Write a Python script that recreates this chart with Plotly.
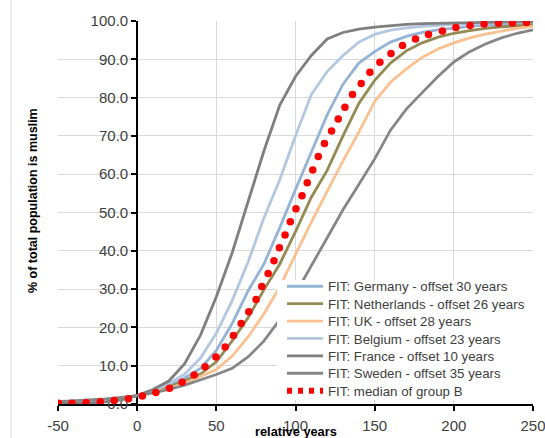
import plotly.graph_objects as go

# relative years (x grid for fitted curves)
years = [-50, -40, -30, -20, -10, 0, 10, 20, 30, 40, 50, 60, 70, 80, 90, 100,
         110, 120, 130, 140, 150, 160, 170, 180, 190, 200, 210, 220, 230, 240, 250]

germany = [0.25, 0.35, 0.55, 0.85, 1.35, 2.2, 3.3, 4.8, 6.8, 9.3, 14.0, 21.0, 29.5, 36.5, 46.0, 56.0,
           66.0, 75.5, 83.5, 89.0, 92.0, 94.5, 96.0, 97.0, 97.7, 98.2, 98.6, 98.9, 99.1, 99.3, 99.4]
netherlands = [0.3, 0.4, 0.6, 0.95, 1.45, 2.2, 3.1, 4.4, 6.2, 7.8, 11.0, 16.5, 22.5, 29.8, 36.5, 45.0,
               54.0, 61.0, 70.0, 78.5, 84.5, 89.0, 92.2, 94.3, 95.8, 96.8, 97.5, 98.1, 98.5, 98.8, 99.0]
uk = [0.4, 0.55, 0.8, 1.1, 1.6, 2.2, 3.0, 4.0, 5.4, 7.2, 9.0, 12.5, 17.5, 23.5, 30.5, 39.0,
      47.5, 55.5, 63.5, 71.0, 79.0, 84.0, 87.5, 90.5, 92.7, 94.3, 95.6, 96.6, 97.4, 98.1, 98.6]
belgium = [0.2, 0.3, 0.45, 0.75, 1.25, 2.2, 3.5, 5.3, 7.8, 12.0, 18.5, 27.0, 37.0, 48.5, 58.5, 70.0,
           80.8, 86.8, 91.0, 94.5, 96.5, 97.6, 98.2, 98.6, 98.9, 99.1, 99.3, 99.4, 99.5, 99.6, 99.7]
france = [0.1, 0.15, 0.3, 0.55, 1.1, 2.2, 3.8, 6.0, 10.5, 18.0, 28.0, 39.5, 52.5, 66.0, 78.0, 85.5,
          91.0, 95.3, 97.0, 97.9, 98.4, 98.8, 99.1, 99.3, 99.4, 99.5, 99.6, 99.7, 99.7, 99.8, 99.8]
sweden = [0.6, 0.8, 1.05, 1.35, 1.75, 2.2, 2.9, 3.8, 4.9, 6.2, 7.7, 9.3, 12.3, 16.4, 22.0, 28.8,
          36.0, 43.5, 50.7, 57.3, 64.0, 71.5, 77.0, 81.3, 85.5, 89.3, 92.0, 94.0, 95.6, 96.8, 97.7]

# median of group B: dot positions as drawn
median_x = [-49.7, -41.2, -32.2, -23.3, -14.5, -5.5, 3.3, 11.8, 20.4, 28.4, 36.0, 42.9, 49.7, 55.6,
            60.8, 65.7, 70.5, 75.1, 78.7, 82.7, 86.4, 89.8, 93.4, 96.7, 100.3, 104.1, 107.4, 110.9,
            114.4, 118.3, 122.8, 127.0, 131.2, 136.0, 141.5, 147.0, 153.3, 160.3, 167.6, 175.8,
            184.0, 192.8, 201.3, 210.3, 219.1, 228.2, 237.0, 245.9]
median_y = [0.2, 0.2, 0.3, 0.6, 0.9, 1.4, 2.1, 3.0, 4.1, 5.7, 7.6, 9.7, 12.3, 14.9,
            17.9, 21.0, 24.1, 27.3, 30.7, 34.1, 37.4, 40.8, 44.1, 47.6, 51.0, 54.4, 57.8, 61.1,
            64.6, 68.0, 71.3, 74.4, 77.5, 80.8, 83.7, 86.6, 89.2, 91.5, 93.6, 95.3,
            96.5, 97.4, 98.3, 98.8, 99.2, 99.4, 99.5, 99.6]

x_ticks = [-50, 0, 50, 100, 150, 200, 250]
y_ticks = [0, 10, 20, 30, 40, 50, 60, 70, 80, 90, 100]

series = [
    ("FIT: Germany - offset 30 years", germany, "#95B3D7"),
    ("FIT: Netherlands - offset 26 years", netherlands, "#948A54"),
    ("FIT: UK - offset 28 years", uk, "#FAC090"),
    ("FIT: Belgium - offset 23 years", belgium, "#B3C7E0"),
    ("FIT: France - offset 10 years", france, "#7F7F7F"),
    ("FIT: Sweden - offset 35 years", sweden, "#868686"),
]

font_main = "Liberation Sans, Arial, sans-serif"

# layout geometry (pixels of the 545x438 page)
W, H = 545, 438
ML, MR, MT, MB = 58, 12, 21, 34
PW, PH = W - ML - MR, H - MT - MB


def px_to_paper_x(px):
    return (px - ML) / PW


def px_to_paper_y(py):
    return (H - MB - py) / PH


fig = go.Figure()
legend_names = ["legend"] + [f"legend{i}" for i in range(2, 8)]
for i, (name, vals, col) in enumerate(series):
    fig.add_trace(go.Scatter(x=years, y=vals, mode="lines", name=name, legend=legend_names[i],
                             line=dict(color=col, width=2.8), hoverinfo="skip"))

fig.add_trace(go.Scatter(x=median_x, y=median_y, mode="markers", name="FIT: median of group B",
                         marker=dict(color="#FF0000", size=7.5, line=dict(width=0)),
                         showlegend=False, hoverinfo="skip"))
fig.add_trace(go.Scatter(x=[None], y=[None], mode="lines", name="FIT: median of group B",
                         legend=legend_names[6],
                         line=dict(color="#FF0000", width=6, dash="5px,6px")))

legends = {}
for i, lname in enumerate(legend_names):
    row_center = 287.5 + 17.4 * i
    legends[lname] = dict(x=px_to_paper_x(282), y=px_to_paper_y(row_center - 16.4),
                          xanchor="left", yanchor="top",
                          bgcolor="rgba(0,0,0,0)", borderwidth=0,
                          font=dict(size=13.3, color="#404040", family=font_main),
                          itemwidth=36)

fig.update_layout(
    width=W, height=H,
    margin=dict(l=ML, r=MR, t=MT, b=MB, autoexpand=False),
    paper_bgcolor="white", plot_bgcolor="white",
    font=dict(family=font_main, color="#404040"),
    showlegend=True,
    xaxis=dict(range=[-50, 250], tickvals=x_ticks, ticktext=[str(v) for v in x_ticks],
               automargin=False,
               showgrid=True, gridcolor="#D9D9D9", gridwidth=1,
               zeroline=False, showline=True, linecolor="black", linewidth=2,
               ticks="outside", ticklen=5, tickcolor="black", tickwidth=1.5,
               ticklabelstandoff=2, ticklabeloverflow="allow", layer="below traces",
               tickfont=dict(size=15, color="#404040"), fixedrange=True),
    yaxis=dict(range=[0, 100], tickvals=y_ticks, ticktext=[f"{v:.1f}" for v in y_ticks],
               automargin=False,
               anchor="free", position=1/6, side="left",
               showgrid=True, gridcolor="#D9D9D9", gridwidth=1,
               zeroline=False, showline=True, linecolor="black", linewidth=2,
               ticks="outside", ticklen=5, tickcolor="black", tickwidth=1.5,
               layer="below traces",
               tickfont=dict(size=15, color="#404040"), fixedrange=True),
    annotations=[
        dict(text="<b>% of total population is muslim</b>", xref="paper", yref="paper",
             x=px_to_paper_x(33), y=px_to_paper_y(201), textangle=-90, showarrow=False,
             xanchor="center", yanchor="middle",
             font=dict(size=12.5, color="#000000")),
        dict(text="<b>relative years</b>", xref="paper", yref="paper",
             x=0.5, y=px_to_paper_y(432), showarrow=False,
             xanchor="center", yanchor="middle",
             font=dict(size=12.8, color="#000000")),
    ],
    shapes=[
        dict(type="line", xref="paper", yref="paper",
             x0=px_to_paper_x(11), x1=px_to_paper_x(11),
             y0=px_to_paper_y(H + 2), y1=px_to_paper_y(-2),
             line=dict(color="#D9D9D9", width=1)),
        dict(type="rect", xref="paper", yref="paper", layer="above",
             x0=px_to_paper_x(277), x1=px_to_paper_x(541),
             y0=px_to_paper_y(400), y1=px_to_paper_y(280),
             fillcolor="white", line=dict(width=0)),
    ],
)
fig.update_layout(**legends)

fig.write_html("out.html")
